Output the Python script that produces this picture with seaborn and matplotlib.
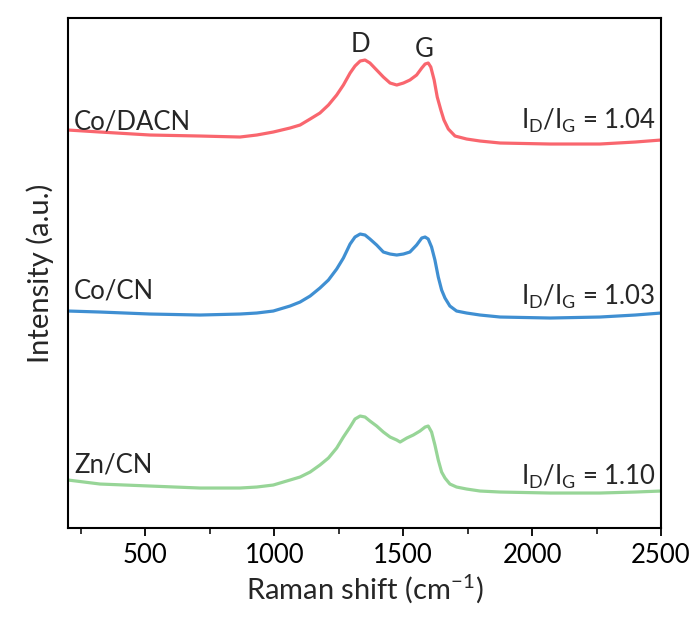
import numpy as np
import pandas as pd
import matplotlib
matplotlib.use("Agg")
import matplotlib.pyplot as plt
import seaborn as sns
from matplotlib.ticker import MultipleLocator

# Raman shift (cm^-1) and intensity (a.u.)
red_x = [200, 324, 518, 712, 867, 932, 996, 1061, 1100, 1139, 1177, 1210, 1242, 1268, 1294,
         1313, 1333, 1352, 1371, 1397, 1423, 1449, 1475, 1501, 1526, 1552, 1572, 1585, 1597,
         1607, 1620, 1632, 1646, 1658, 1675, 1701, 1746, 1798, 1876, 2070, 2263, 2400, 2500]
red_y = [398, 396, 393, 392, 391, 393, 396, 400, 403, 409, 415, 423, 433, 443, 455,
         462, 467, 468, 465, 458, 451, 445, 443, 445, 448, 453, 460, 464, 465,
         461, 448, 431, 418, 408, 399, 392, 389, 387, 385, 384, 384, 386, 388]

blue_x = [200, 324, 518, 712, 867, 932, 996, 1061, 1100, 1139, 1177, 1210, 1242, 1268, 1294,
          1313, 1333, 1352, 1371, 1397, 1423, 1449, 1475, 1501, 1526, 1552, 1572, 1585, 1597,
          1610, 1623, 1636, 1649, 1662, 1681, 1707, 1746, 1798, 1876, 2070, 2263, 2400, 2500]
blue_y = [217, 216, 214, 213, 214, 215, 217, 222, 226, 232, 240, 248, 259, 270, 284,
          291, 294, 293, 289, 283, 276, 274, 273, 274, 276, 283, 290, 291, 289,
          281, 268, 251, 238, 230, 222, 217, 215, 213, 211, 210, 211, 213, 215]

green_x = [200, 324, 518, 712, 867, 932, 996, 1061, 1100, 1139, 1177, 1210, 1242, 1268, 1294,
           1313, 1333, 1352, 1371, 1397, 1423, 1449, 1475, 1488, 1514, 1539, 1565, 1585, 1597,
           1610, 1623, 1636, 1649, 1662, 1681, 1707, 1746, 1798, 1876, 2070, 2263, 2400, 2500]
green_y = [48, 44, 42, 40, 40, 41, 43, 48, 51, 56, 63, 70, 80, 91, 101,
           109, 112, 111, 107, 102, 96, 91, 88, 86, 90, 93, 97, 101, 102,
           96, 83, 68, 56, 50, 44, 41, 39, 37, 36, 35, 35, 36, 37]

samples = ["Co/DACN", "Co/CN", "Zn/CN"]
ratios = ["1.04", "1.03", "1.10"]
colors = ["#F9666E", "#3F8FD2", "#97D597"]

df = pd.concat([
    pd.DataFrame({"shift": red_x, "intensity": red_y, "sample": samples[0]}),
    pd.DataFrame({"shift": blue_x, "intensity": blue_y, "sample": samples[1]}),
    pd.DataFrame({"shift": green_x, "intensity": green_y, "sample": samples[2]}),
])

sns.set_style("ticks")
plt.rcParams["font.family"] = ["Lato", "DejaVu Sans"]
plt.rcParams["mathtext.fontset"] = "custom"
plt.rcParams["mathtext.rm"] = "Lato"
plt.rcParams["mathtext.it"] = "Lato"
plt.rcParams["mathtext.default"] = "regular"

fig = plt.figure(figsize=(6.97, 6.17), dpi=100)
ax = fig.add_axes([0.0976, 0.1442, 0.8508, 0.8266])

sns.lineplot(data=df, x="shift", y="intensity", hue="sample", palette=colors,
             hue_order=samples, linewidth=2.3, legend=False, ax=ax, sort=False)

ax.set_xlim(200, 2500)
ax.set_ylim(0, 510)
ax.xaxis.set_major_locator(MultipleLocator(500))
ax.xaxis.set_minor_locator(MultipleLocator(250))
ax.set_yticks([])
ax.tick_params(axis="x", which="major", direction="out", length=6, width=1.3,
               labelsize=18.5, colors="black", pad=5)
ax.tick_params(axis="x", which="minor", direction="out", length=4, width=1.3)
for s in ax.spines.values():
    s.set_visible(True)
    s.set_linewidth(1.5)
    s.set_color("black")

ax.set_xlabel("Raman shift (cm$^{-1}$)", fontsize=21, labelpad=3)
ax.set_ylabel("Intensity (a.u.)", fontsize=21, labelpad=10)

lab_y = [399, 230, 56]
ratio_y = [399, 223, 43]
for name, r, ly, ry in zip(samples, ratios, lab_y, ratio_y):
    ax.text(223, ly, name, fontsize=18.5, ha="left", va="baseline")
    ax.text(2480, ry, "I$_D$/I$_G$ = " + r, fontsize=18.5, ha="right", va="baseline")

ax.text(1333, 476, "D", fontsize=18.5, ha="center", va="baseline")
ax.text(1581, 471, "G", fontsize=18.5, ha="center", va="baseline")

fig.savefig("out.png", dpi=100)
